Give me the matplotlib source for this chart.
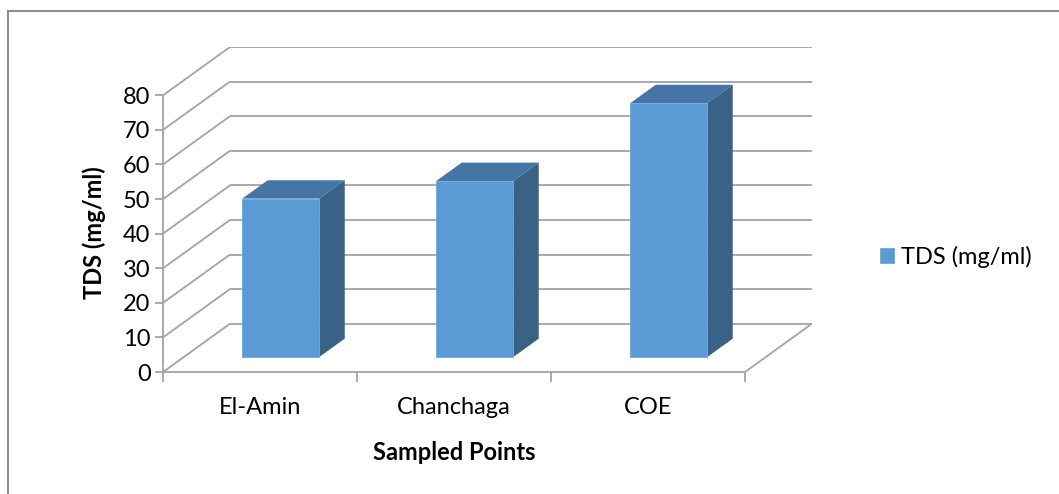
import matplotlib
matplotlib.use("Agg")
import matplotlib.pyplot as plt
from matplotlib.patches import Polygon, Rectangle
import numpy as np

# Data
categories = ["El-Amin", "Chanchaga", "COE"]
tds_values = [45.8, 50.9, 73.4]
y_ticks = [0, 10, 20, 30, 40, 50, 60, 70, 80]
series_label = "TDS (mg/ml)"
x_title = "Sampled Points"
y_title = "TDS (mg/ml)"

plt.rcParams["font.family"] = ["Lato", "DejaVu Sans"]
FS = 17

W, H = 1059, 494
fig = plt.figure(figsize=(W / 100, H / 100), dpi=100)

# Outer chart border
fig.patches.append(Rectangle((8 / W, -0.05), 1.2, (H - 11) / H + 0.05,
                             transform=fig.transFigure, fill=False,
                             edgecolor="#8E8E8E", linewidth=1.5))

# Oblique projection of the depth axis (in data units)
n = len(categories)
DX = 67 / 194          # depth shift along x, in category widths
y_max = y_ticks[-1]
px_per_unit = 276.7 / y_max
ax_h_px = 325
DY = ax_h_px / px_per_unit - y_max

left_px, right_px, bottom_px = 163, 163 + 194 * (n + DX), 372
ax = fig.add_axes([left_px / W, (H - bottom_px) / H,
                   (right_px - left_px) / W, ax_h_px / H])
ax.set_xlim(0, n + DX)
ax.set_ylim(0, y_max + DY)

grid_c = "#A3A3A3"
grid_lw = 1.3

# Back wall gridlines and side wall diagonals
for v in y_ticks:
    ax.plot([DX, n + DX], [v + DY, v + DY], color=grid_c, lw=grid_lw, zorder=1,
            solid_capstyle="butt")
    ax.plot([0, DX], [v, v + DY], color=grid_c, lw=grid_lw, zorder=1,
            solid_capstyle="butt")
# Floor right edge
ax.plot([n, n + DX], [0, DY], color=grid_c, lw=grid_lw, zorder=1)

# Axis lines and ticks
for s in ("top", "right"):
    ax.spines[s].set_visible(False)
ax.spines["left"].set_bounds(0, y_max)
ax.spines["bottom"].set_bounds(0, n)
for s in ("left", "bottom"):
    ax.spines[s].set_color(grid_c)
    ax.spines[s].set_linewidth(grid_lw)

ax.set_yticks(y_ticks)
ax.set_yticklabels([str(t) for t in y_ticks])
ax.tick_params(axis="y", length=6, width=grid_lw, color=grid_c,
               labelsize=FS, pad=3)

ax.set_xticks(np.arange(n + 1))
ax.set_xticklabels([])
ax.tick_params(axis="x", which="major", length=7, width=grid_lw, color=grid_c)
ax.set_xticks(np.arange(n) + 0.5, minor=True)
ax.set_xticklabels(categories, minor=True)
ax.tick_params(axis="x", which="minor", length=0, labelsize=FS, pad=18)

ax.set_xlabel(x_title, fontsize=FS, fontweight="bold")
ax.xaxis.set_label_coords((454 - left_px) / (right_px - left_px),
                          (bottom_px - 452) / ax_h_px)
ax.xaxis.label.set_va("center")
ax.set_ylabel(y_title, fontsize=FS, fontweight="bold")
ax.yaxis.set_label_coords((94 - left_px) / (right_px - left_px),
                          (bottom_px - 233) / ax_h_px)
ax.yaxis.label.set_va("center")

# 3-D style columns
front_c, top_c, side_c = "#5B9BD5", "#4475A4", "#3A6186"
bar_w = 0.397
d0 = 0.31      # depth position of front faces
bd = 0.38      # depth of each column
x_centers = np.arange(n) + 0.5 + d0 * DX
base = d0 * DY

ax.bar(x_centers, tds_values, width=bar_w, bottom=base, color=front_c,
       edgecolor="#6FA9DD", linewidth=0.6, zorder=4, label=series_label)

for xc, v in zip(x_centers, tds_values):
    xl, xr = xc - bar_w / 2, xc + bar_w / 2
    top = base + v
    ox, oy = bd * DX, bd * DY
    ax.add_patch(Polygon([(xl, top), (xr, top), (xr + ox, top + oy),
                          (xl + ox, top + oy)], closed=True,
                         facecolor=top_c, edgecolor="none", zorder=3))
    ax.add_patch(Polygon([(xr, base), (xr + ox, base + oy),
                          (xr + ox, top + oy), (xr, top)], closed=True,
                         facecolor=side_c, edgecolor="none", zorder=3))

# Legend
fig.legend(loc="center left", bbox_to_anchor=(880 / W, (H - 257) / H),
           frameon=False, fontsize=FS, handlelength=0.6, handleheight=0.6,
           handletextpad=0.3, borderpad=0, borderaxespad=0)

fig.savefig("out.png", dpi=100)
